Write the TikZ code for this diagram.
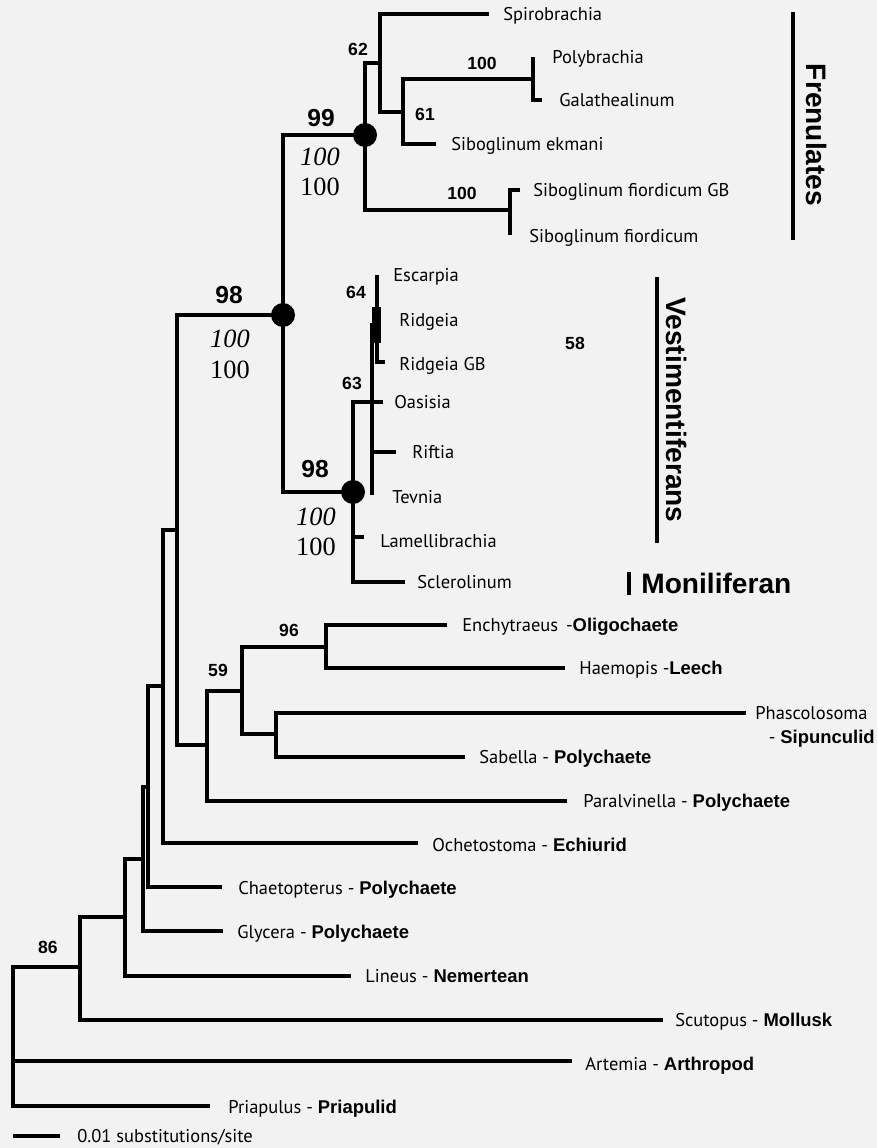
\documentclass[tikz,border=0pt]{standalone}
\usepackage{fontspec}
\setmainfont{PT Sans}
\newfontfamily\helvbold{Liberation Sans}
\newfontfamily\timesnum{Liberation Serif}
\newcommand{\phylum}[1]{{\helvbold\bfseries #1}}
\usetikzlibrary{positioning}
\definecolor{paper}{RGB}{243,242,242}

\begin{document}
\begin{tikzpicture}[x=0.02cm, y=-0.02cm,
  branch/.style={line width=1.8pt},
  taxon/.style={anchor=west, inner sep=0pt, text height=7.4pt, text depth=0pt,
                font=\fontsize{10.5}{12}\selectfont},
  supp/.style={inner sep=0pt, font=\helvbold\bfseries\fontsize{10}{12}\selectfont},
  bigsupp/.style={inner sep=0pt, font=\helvbold\bfseries\fontsize{14}{16}\selectfont},
  postsupp/.style={inner sep=0pt, font=\timesnum\fontsize{15}{17}\selectfont},
  dot/.style={circle, fill=black, inner sep=0pt, minimum size=0.48cm},
  cladelbl/.style={inner sep=0pt, rotate=-90,
                   font=\helvbold\bfseries\fontsize{16}{18}\selectfont}
]

%
%  Layout (pixel grid of the figure, y grows downwards):
%
%  rows   14 .. 236 : Frenulates        (node 99 at x=365)
%  rows  275 .. 582 : Vestimentiferans  (node 98 at x=353)
%  rows  625 .. 1106: other annelids and outgroups, root at x=13
%

\fill[paper] (0,0) rectangle (877,1148);
\useasboundingbox (0,0) rectangle (877,1148);

% --- internal nodes ---
\coordinate (root) at (13,1061);
\coordinate (n86)  at (80,967);
\coordinate (nLin) at (125,917);
\coordinate (nGly) at (143,859);
\coordinate (nCha) at (148,787);
\coordinate (nOch) at (163,686);
\coordinate (nSib) at (177,530);
\coordinate (nPar) at (207,745);
\coordinate (n59)  at (242,691);
\coordinate (n96)  at (326,647);
\coordinate (nPha) at (276,734);
\coordinate (nTop) at (283,315);
\coordinate (n99)  at (365,135);
\coordinate (n62)  at (380,63);
\coordinate (n61)  at (403,112);
\coordinate (nPol) at (533,79);
\coordinate (nFio) at (510,210);
\coordinate (nVes) at (353,492);
\coordinate (n63)  at (372,402);
\coordinate (n64)  at (377,325);

% --- tips ---
\coordinate (tSpi) at (489,14);
\coordinate (tPol) at (533,57);
\coordinate (tGal) at (542,100);
\coordinate (tEkm) at (436,144);
\coordinate (tFGB) at (520,190);
\coordinate (tFio) at (512,233);
\coordinate (tEsc) at (377,275);
\coordinate (tRGB) at (385,362);
\coordinate (tOas) at (383,402);
\coordinate (tRif) at (396,452);
\coordinate (tTev) at (372,495);
\coordinate (tLam) at (364,537);
\coordinate (tScl) at (405,582);
\coordinate (tEnc) at (447,625);
\coordinate (tHae) at (565,668);
\coordinate (tPha) at (746,713);
\coordinate (tSab) at (465,757);
\coordinate (tPar) at (567,801);
\coordinate (tOch) at (418,843);
\coordinate (tCha) at (222,887);
\coordinate (tGly) at (223,931);
\coordinate (tLin) at (351,976);
\coordinate (tScu) at (663,1020);
\coordinate (tArt) at (572,1061);
\coordinate (tPri) at (210,1106);

% ---- branches ----
\draw[branch] (root) |- (n86);
\draw[branch] (root) -- (tArt);
\draw[branch] (root) |- (tPri);
\draw[branch] (n86) |- (nLin);
\draw[branch] (n86) |- (tScu);
\draw[branch] (nLin) |- (nGly);
\draw[branch] (nLin) |- (tLin);
\draw[branch] (nGly) |- (nCha);
\draw[branch] (nGly) |- (tGly);
\draw[branch] (nCha) |- (nOch);
\draw[branch] (nCha) |- (tCha);
\draw[branch] (nOch) |- (nSib);
\draw[branch] (nOch) |- (tOch);
\draw[branch] (nSib) |- (nTop);
\draw[branch] (nSib) |- (nPar);
\draw[branch] (nPar) |- (n59);
\draw[branch] (nPar) |- (tPar);
\draw[branch] (n59) |- (n96);
\draw[branch] (n59) |- (nPha);
\draw[branch] (n96) |- (tEnc);
\draw[branch] (n96) |- (tHae);
\draw[branch] (nPha) |- (tPha);
\draw[branch] (nPha) |- (tSab);

% Frenulates
\draw[branch] (nTop) |- (n99);
\draw[branch] (n99) |- (n62);
\draw[branch] (n99) |- (nFio);
\draw[branch] (n62) |- (tSpi);
\draw[branch] (n62) |- (n61);
\draw[branch] (n61) |- (nPol);
\draw[branch] (n61) |- (tEkm);
\draw[branch] (nPol) |- (tPol);
\draw[branch] (nPol) |- (tGal);
\draw[branch] (nFio) |- (tFGB);
\draw[branch] (nFio) |- (tFio);

% Vestimentiferans
\draw[branch] (nTop) |- (nVes);
\draw[branch] (nVes) |- (n63);
\draw[branch] (nVes) |- (tLam);
\draw[branch] (nVes) |- (tScl);
\draw[branch] (n63) |- (n64);
\draw[branch] (n63) |- (tOas);
\draw[branch] (n63) |- (tRif);
\draw[branch] (n63) |- (tTev);
\draw[branch] (n64) |- (tEsc);
\draw[branch] (n64) |- (tRGB);
\fill (372,307) rectangle (381,343);

% ---- big nodes ----
\node[dot] (d99)  at (n99)  {};
\node[dot] (dTop) at (nTop) {};
\node[dot] (dVes) at (nVes) {};

% ---- support values ----
\node[supp] (s62)  at (358,49)  {62};
\node[supp] (s100a) at (482,63) {100};
\node[supp] (s61)  at (425,114) {61};
\node[supp] (s100b) at (462,193) {100};
\node[supp] (s64)  at (356,292) {64};
\node[supp] (s63)  at (352,383) {63};
\node[supp] (s58)  at (575,343) {58};
\node[supp] (s96)  at (289,630) {96};
\node[supp] (s59)  at (218,670) {59};
\node[supp] (s86)  at (48,947)  {86};

\node[bigsupp] (b99) at (321,118) {99};
\node[postsupp, font=\timesnum\itshape\fontsize{15}{17}\selectfont] (i99) at (320,157) {100};
\node[postsupp] (p99) at (320,187) {100};

\node[bigsupp] (bTop) at (229,295) {98};
\node[postsupp, font=\timesnum\itshape\fontsize{15}{17}\selectfont] (iTop) at (230,339) {100};
\node[postsupp] (pTop) at (230,370) {100};

\node[bigsupp] (bVes) at (315,469) {98};
\node[postsupp, font=\timesnum\itshape\fontsize{15}{17}\selectfont] (iVes) at (316,517) {100};
\node[postsupp] (pVes) at (316,547) {100};

% ---- taxon labels ----
\node[taxon] (lSpi) at (503,14)  {Spirobrachia};
\node[taxon] (lPol) at (552,57)  {Polybrachia};
\node[taxon] (lGal) at (559,100) {Galathealinum};
\node[taxon] (lEkm) at (451,144) {Siboglinum ekmani};
\node[taxon] (lFGB) at (533,190) {Siboglinum fiordicum GB};
\node[taxon] (lFio) at (529,236) {Siboglinum fiordicum};
\node[taxon] (lEsc) at (393,275) {Escarpia};
\node[taxon] (lRid) at (399,320) {Ridgeia};
\node[taxon] (lRGB) at (399,364) {Ridgeia GB};
\node[taxon] (lOas) at (394,402) {Oasisia};
\node[taxon] (lRif) at (412,452) {Riftia};
\node[taxon] (lTev) at (392,497) {Tevnia};
\node[taxon] (lLam) at (380,541) {Lamellibrachia};
\node[taxon] (lScl) at (417,582) {Sclerolinum};
\node[taxon] (lEnc) at (462,625) {Enchytraeus \,-\phylum{Oligochaete}};
\node[taxon] (lHae) at (579,668) {Haemopis -\phylum{Leech}};
\node[taxon] (lPha) at (755,713) {Phascolosoma};
\node[taxon, anchor=east] (lSip) at (875,737) {- \phylum{Sipunculid}};
\node[taxon] (lSab) at (479,757) {Sabella - \phylum{Polychaete}};
\node[taxon] (lPar) at (583,801) {Paralvinella - \phylum{Polychaete}};
\node[taxon] (lOch) at (432,845) {Ochetostoma - \phylum{Echiurid}};
\node[taxon] (lCha) at (238,888) {Chaetopterus - \phylum{Polychaete}};
\node[taxon] (lGly) at (237,932) {Glycera - \phylum{Polychaete}};
\node[taxon] (lLin) at (365,976) {Lineus - \phylum{Nemertean}};
\node[taxon] (lScu) at (675,1020) {Scutopus - \phylum{Mollusk}};
\node[taxon] (lArt) at (585,1064) {Artemia - \phylum{Arthropod}};
\node[taxon] (lPri) at (228,1107) {Priapulus - \phylum{Priapulid}};

% ---- clade bars ----
\coordinate (fre0) at (793,12);
\coordinate (fre1) at (793,240);
\draw[branch] (fre0) -- (fre1);
\node[cladelbl] (lFre) at (817,135) {Frenulates};

\coordinate (ves0) at (657,277);
\coordinate (ves1) at (657,543);
\draw[branch] (ves0) -- (ves1);
\node[cladelbl] (lVes) at (677,410) {Vestimentiferans};

\coordinate (mon0) at (629,572);
\coordinate (mon1) at (629,595);
\draw[line width=2.2pt] (mon0) -- (mon1);
\node[inner sep=0pt, anchor=west, font=\helvbold\bfseries\fontsize{16}{18}\selectfont]
      (lMon) at (641,583) {Moniliferan};

% ---- scale bar ----
\coordinate (sb0) at (13,1136);
\coordinate (sb1) at (60,1136);
\draw[branch] (sb0) -- (sb1);
\node[taxon] (lSb) at (77,1136) {0.01 substitutions/site};

\end{tikzpicture}
\end{document}
